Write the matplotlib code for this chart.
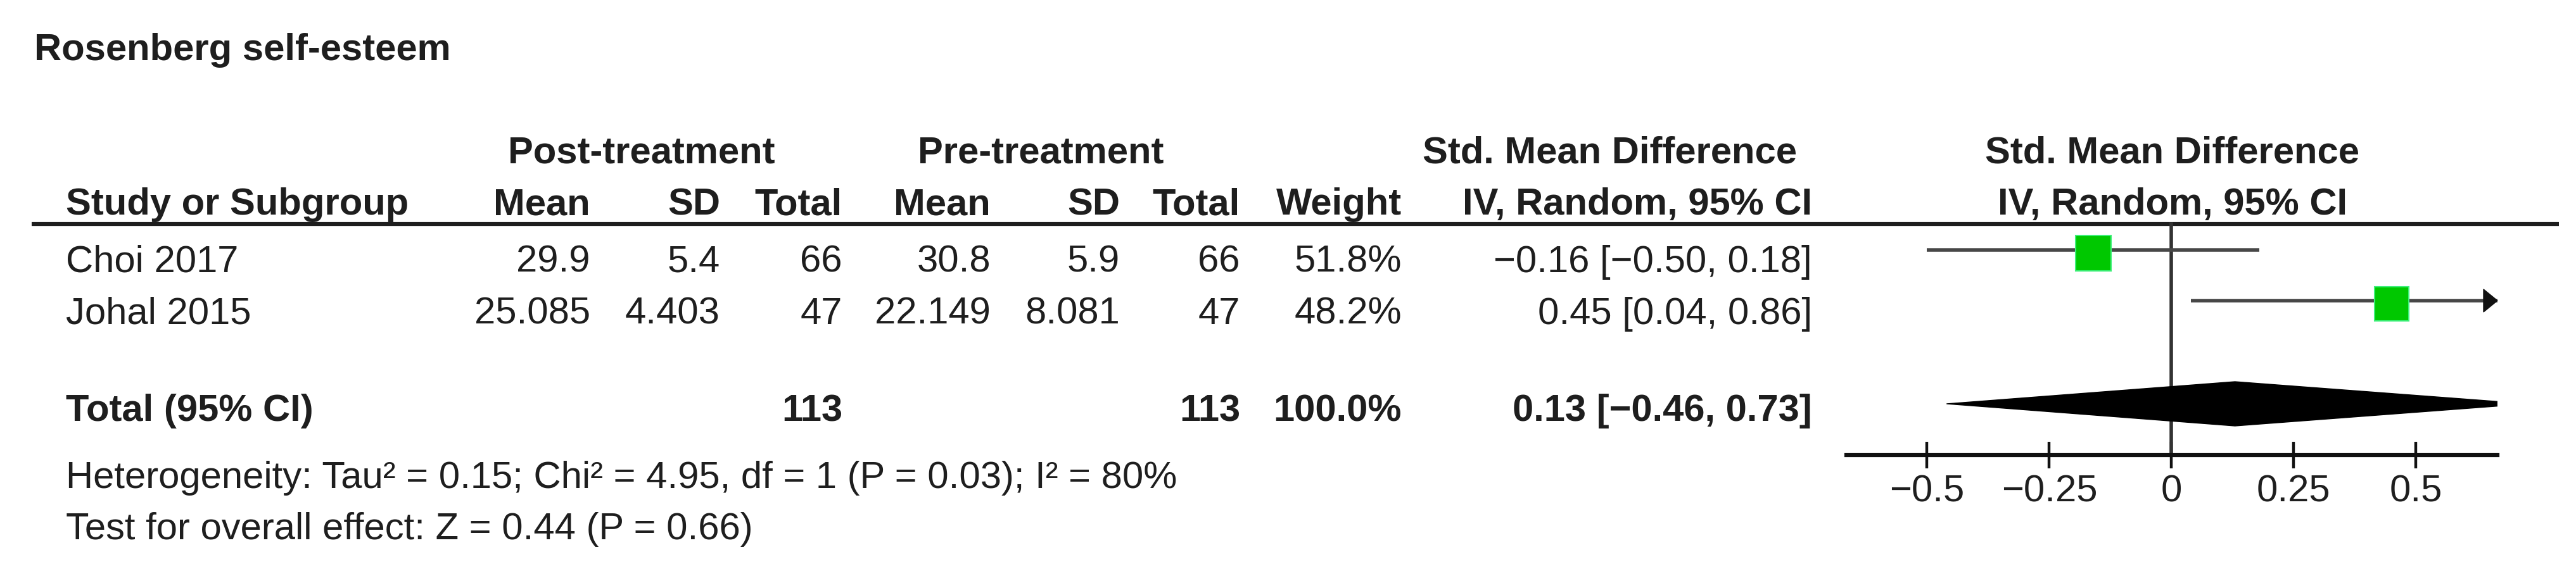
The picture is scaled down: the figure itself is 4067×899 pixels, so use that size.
import matplotlib
matplotlib.use("Agg")
import matplotlib.pyplot as plt
from matplotlib.patches import Polygon

plt.rcParams['font.family'] = ['Liberation Sans', 'DejaVu Sans']

# data
studies = ['Choi 2017', 'Johal 2015']
post_mean = [29.9, 25.085]
post_sd = [5.4, 4.403]
post_n = [66, 47]
pre_mean = [30.8, 22.149]
pre_sd = [5.9, 8.081]
pre_n = [66, 47]
weight = [51.8, 48.2]
smd = [-0.16, 0.45]
ci_lo = [-0.50, 0.04]
ci_hi = [0.18, 0.86]

total_smd = 0.13
total_lo = -0.46
total_hi = 0.73

tau2 = 0.15
chi2 = 4.95
df = 1
p_het = 0.03
i2 = 80
z = 0.44
p_z = 0.66

xticks = [-0.5, -0.25, 0, 0.25, 0.5]
xtick_labels = ['\u22120.5', '\u22120.25', '0', '0.25', '0.5']

W, H = 4067, 899
FS = 43
TXT = '#1e1e1e'


def fmt(v):
    return f"{v:.2f}".replace('-', '\u2212')


fig = plt.figure(figsize=(W / 100, H / 100), dpi=100)
fig.patch.set_facecolor('white')

bg = fig.add_axes([0, 0, 1, 1])
bg.set_xlim(0, W)
bg.set_ylim(H, 0)
bg.axis('off')


def put(x, y, s, ha='left', bold=False):
    bg.text(x, y, s, ha=ha, va='baseline', fontsize=FS, color=TXT,
            fontweight='bold' if bold else 'normal')


# column right edges / centers (pixels)
col_x = [932, 1137, 1330, 1564, 1768, 1958, 2213, 2861]
plot_c = 3430

put(54, 95, 'Rosenberg self-esteem', bold=True)

put(1013, 258, 'Post-treatment', ha='center', bold=True)
put(1643, 258, 'Pre-treatment', ha='center', bold=True)
put(2541, 258, 'Std. Mean Difference', ha='center', bold=True)
put(plot_c, 258, 'Std. Mean Difference', ha='center', bold=True)

put(104, 339, 'Study or Subgroup', bold=True)
for x, s in zip(col_x, ['Mean', 'SD', 'Total', 'Mean', 'SD', 'Total', 'Weight',
                        'IV, Random, 95% CI']):
    put(x, 339, s, ha='right', bold=True)
put(plot_c, 339, 'IV, Random, 95% CI', ha='center', bold=True)

bg.plot([50, 4040], [354, 354], color='#1e1e1e', lw=4.5, solid_capstyle='butt')

row_base = [430, 512]
row_mid = [395, 475]
for i, name in enumerate(studies):
    y = row_base[i]
    put(104, y, name)
    vals = [str(post_mean[i]), str(post_sd[i]), str(post_n[i]),
            str(pre_mean[i]), str(pre_sd[i]), str(pre_n[i]),
            f"{weight[i]:.1f}%",
            f"{fmt(smd[i])} [{fmt(ci_lo[i])}, {fmt(ci_hi[i])}]"]
    for x, s in zip(col_x, vals):
        put(x, y, s, ha='right')

tot_base = 665
put(104, tot_base, 'Total (95% CI)', bold=True)
put(col_x[2], tot_base, str(sum(post_n)), ha='right', bold=True)
put(col_x[5], tot_base, str(sum(pre_n)), ha='right', bold=True)
put(col_x[6], tot_base, f"{sum(weight):.1f}%", ha='right', bold=True)
put(col_x[7], tot_base, f"{fmt(total_smd)} [{fmt(total_lo)}, {fmt(total_hi)}]",
    ha='right', bold=True)

put(104, 771, f"Heterogeneity: Tau\u00b2 = {tau2:.2f}; Chi\u00b2 = {chi2:.2f}, "
              f"df = {df} (P = {p_het:.2f}); I\u00b2 = {i2}%")
put(104, 852, f"Test for overall effect: Z = {z:.2f} (P = {p_z:.2f})")

# forest plot panel
xmin, xmax = -0.665, 0.667
ax_left, ax_right = 2915, 3943
fa = fig.add_axes([ax_left / W, 0, (ax_right - ax_left) / W, 1])
fa.set_xlim(xmin, xmax)
fa.set_ylim(H, 0)
fa.patch.set_visible(False)
for side in ['top', 'left', 'right']:
    fa.spines[side].set_visible(False)
fa.spines['bottom'].set_position(('data', 719))
fa.spines['bottom'].set_linewidth(4.5)
fa.spines['bottom'].set_color('#111111')
fa.set_yticks([])
fa.set_xticks(xticks)
fa.set_xticklabels(xtick_labels)
fa.tick_params(axis='x', direction='inout', length=30, width=3.2, pad=7,
               labelsize=FS, colors='#111111', labelcolor=TXT)

fa.plot([0, 0], [354, 719], color='#333333', lw=4, zorder=2)

px_per_unit = (ax_right - ax_left) / (xmax - xmin)
for i in range(len(studies)):
    y = row_mid[i]
    hi = min(ci_hi[i], xmax)
    fa.plot([ci_lo[i], hi], [y, y], color='#474747', lw=4,
            solid_capstyle='butt', zorder=3)
    if ci_hi[i] > xmax:
        aw = 22 / px_per_unit
        fa.add_patch(Polygon([(xmax - aw, y - 18), (xmax, y), (xmax - aw, y + 18)],
                             closed=True, color='#111111', zorder=4, clip_on=False))
    side = 55 * (weight[i] / 50) ** 0.5
    fa.plot(smd[i], y + 5, marker='s', ms=side / 1.389, color='#00c800',
            mec='#3ef07a', mew=1.5, zorder=5)

ty = 638
fa.add_patch(Polygon([(total_lo, ty), (total_smd, ty - 35),
                      (total_hi, ty), (total_smd, ty + 35)],
                     closed=True, color='black', zorder=4))

fig.savefig('out.png', dpi=100, facecolor='white')
